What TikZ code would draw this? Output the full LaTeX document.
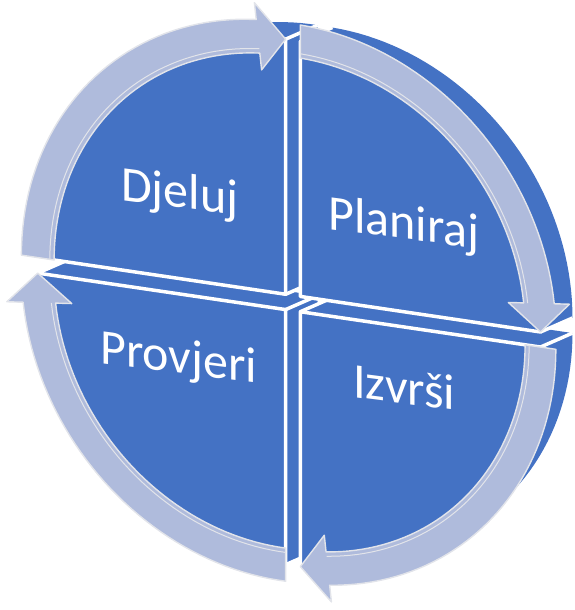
\documentclass[tikz,border=0pt]{standalone}
\usepackage{fontspec}
\setmainfont{Carlito}
\definecolor{qblue}{RGB}{68,114,196}
\definecolor{ringfill}{RGB}{175,187,220}
\definecolor{ringedge}{RGB}{226,228,234}
\tikzset{
  dedge/.style={draw=white,line width=3.5pt},
  frontface/.style={fill=qblue,draw=white,line width=3.5pt,line join=round},
  ringarrow/.style={fill=ringfill,draw=ringedge,line width=1.4pt,line join=round},
  bevel/.style={draw=ringedge,line width=1pt},
  lbl/.style={text=white,font=\fontsize{50}{60}\selectfont,inner sep=0pt,anchor=base west,yslant=-0.13}
}
% #1 options, #2 start angle, #3 end angle, #4 su, #5 sv
\newcommand\qfill[5]{\path[#1] ({fqx(0,0,#4,#5)},{fqy(0,0,#4,#5)}) -- plot[domain=#2:#3,samples=45,variable=\ang] ({fqx(1,\ang,#4,#5)},{fqy(1,\ang,#4,#5)}) -- cycle;}
% body of a quadrant: #1 start, #2 end, #3 su, #4 sv
\newcommand\qbody[4]{%
  \foreach \k in {0,...,16}{\qfill{fill=qblue,shift={(2*\k,-0.875*\k)}}{#1}{#2}{#3}{#4}}
  \draw[dedge] ({fqx(0,0,#3,#4)},{fqy(0,0,#3,#4)}) -- ++(32,-14);
  \draw[dedge] ({fqx(1,#1,#3,#4)},{fqy(1,#1,#3,#4)}) -- ++(32,-14);
  \draw[dedge] ({fqx(1,#2,#3,#4)},{fqy(1,#2,#3,#4)}) -- ++(32,-14);
}
% ring arrow: #1 tail angle, #2 head base angle, #3 tip angle, #4 su, #5 sv
\newcommand\rarrow[5]{%
  \path[ringarrow]
    plot[domain=#1:#2,samples=45,variable=\ang] ({fqx(1.065,\ang,#4,#5)},{fqy(1.065,\ang,#4,#5)})
    -- ({fqx(1.13,#2,#4,#5)},{fqy(1.13,#2,#4,#5)})
    -- ({fqx(1,#3,#4,#5)},{fqy(1,#3,#4,#5)})
    -- ({fqx(0.87,#2,#4,#5)},{fqy(0.87,#2,#4,#5)})
    -- plot[domain=#2:#1,samples=45,variable=\ang] ({fqx(0.935,\ang,#4,#5)},{fqy(0.935,\ang,#4,#5)})
    -- cycle;
  \path[bevel] plot[domain=#1:#2,samples=45,variable=\ang] ({fqx(0.952,\ang,#4,#5)},{fqy(0.952,\ang,#4,#5)});
}
\begin{document}
\begin{tikzpicture}[x=1pt,y=-1pt,
  declare function={
    fpx(\ua,\va)=293+244*\ua/(1+0.015*\ua);
    fpy(\ua,\va)=303+(36*\ua-255*\va)/(1+0.015*\ua);
    fuu(\ra,\ta,\sa)=\ra*cos(\ta)+\sa*0.03;
    fvv(\ra,\ta,\sb)=\ra*sin(\ta)+\sb*0.03;
    fqx(\ra,\ta,\sa,\sb)=fpx(fuu(\ra,\ta,\sa),fvv(\ra,\ta,\sb));
    fqy(\ra,\ta,\sa,\sb)=fpy(fuu(\ra,\ta,\sa),fvv(\ra,\ta,\sb));
  }]
\useasboundingbox (0,0) rectangle (574,610);
% bodies (extrusion), back to front
\qbody{180}{270}{-1}{-1}
\qbody{90}{180}{-1}{1}
\qbody{270}{360}{1}{-1}
\qbody{0}{90}{1}{1}
% front faces
\qfill{frontface}{180}{270}{-1}{-1}
\qfill{frontface}{90}{180}{-1}{1}
\qfill{frontface}{270}{360}{1}{-1}
\qfill{frontface}{0}{90}{1}{1}
% ring arrows
\rarrow{180}{96.5}{90}{-1}{1}
\rarrow{90}{6.5}{0}{1}{1}
\rarrow{360}{276.5}{270}{1}{-1}
\rarrow{270}{186.5}{180}{-1}{-1}
% labels
\node[lbl] (djeluj) at (121,200) {Djeluj};
\node[lbl] (planiraj) at (328,229) {Planiraj};
\node[lbl] (provjeri) at (100,363) {Provjeri};
\node[lbl] (izvrsi) at (353,397) {Izvrši};
\end{tikzpicture}
\end{document}
